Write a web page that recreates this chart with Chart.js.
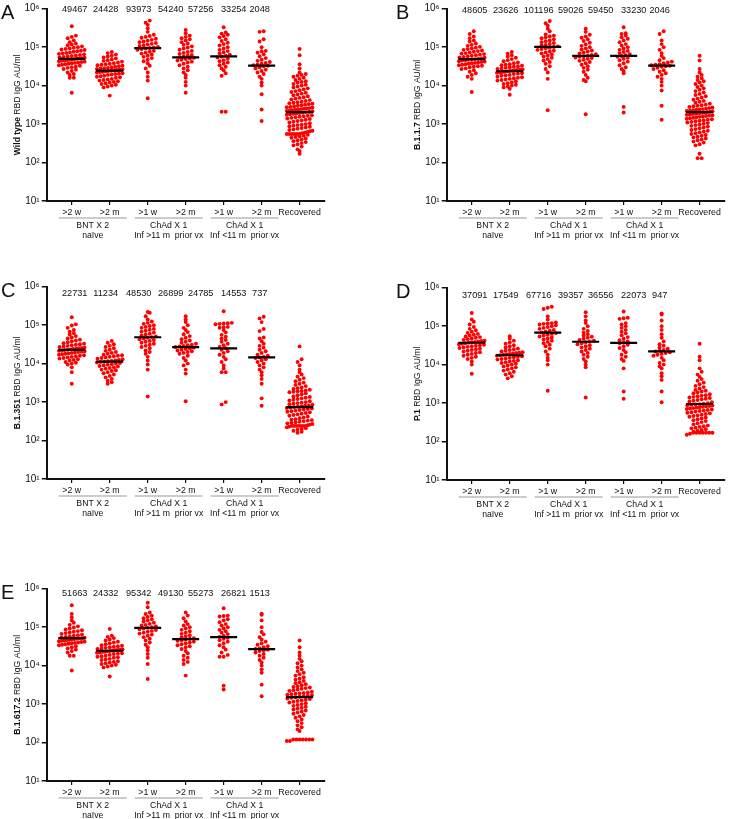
<!DOCTYPE html>
<html>
<head>
<meta charset="utf-8">
<script src="https://cdn.jsdelivr.net/npm/chart.js@4.4.1/dist/chart.umd.min.js"></script>
<style>
  body { margin: 0; background: #fff; width: 740px; height: 819px; overflow: hidden; position: relative;
         font-family: "Liberation Sans", Arial, sans-serif; }
  .panel { position: absolute; }
  .letter { position: absolute; font-size: 20px; line-height: 20px; color: #111; }
</style>
</head>
<body>
<script>
// ---------------------------------------------------------------
// data: antibody titres, in thousands of AU/ml
// ---------------------------------------------------------------

const categories = ['>2 w', '>2 m', '>1 w', '>2 m', '>1 w', '>2 m', 'Recovered'];
const groupTitles = [['BNT X 2', 'naïve'], ['ChAd X 1', 'Inf >11 m  prior vx'], ['ChAd X 1', 'Inf <11 m  prior vx']];
const decades = [10, 100, 1000, 10000, 100000, 1000000];

// Wild type
const wtMedians = [49467, 24428, 93973, 54240, 57256, 33254, 2048];
const wtBnt2w = [350, 200, 185, 170, 150, 135, 125, 118, 112, 105, 100, 97, 93, 90, 87, 84, 81, 78, 76, 73, 71, 69, 67, 65, 63, 61, 59, 58, 56, 55, 53, 52, 51, 50, 49, 48, 47, 46, 45, 44, 43, 42, 41, 40, 39, 38, 37, 36, 35, 34, 33, 31, 30, 29, 27, 26, 24, 22, 20, 19, 16, 16, 6.5];
const wtBnt2m = [75, 70, 64, 60, 57, 54, 51, 48, 46, 44, 42, 40, 38, 37, 36, 35, 34, 33, 32, 31, 30, 29, 28.5, 28, 27, 26.5, 26, 25.5, 25, 24.5, 24, 23.5, 23, 22.5, 22, 21, 20.5, 20, 19.5, 19, 18, 17.5, 17, 16.5, 16, 15, 14.5, 14, 13.5, 13, 12.5, 12, 11.5, 11, 10.5, 10, 9.5, 9, 5.5];
const wtChadHi1w = [490, 430, 380, 310, 250, 210, 195, 185, 175, 165, 155, 148, 140, 135, 128, 122, 117, 112, 107, 102, 98, 95, 92, 89, 85, 80, 76, 72, 68, 64, 60, 56, 52, 47, 43, 38, 33, 28, 22, 17, 13.5, 4.7];
const wtChadHi2m = [280, 230, 200, 185, 170, 160, 150, 135, 125, 115, 105, 98, 92, 86, 80, 75, 71, 67, 63, 60, 57, 55, 53, 51, 49, 47, 45, 42, 40, 37, 34, 31, 28, 25, 22, 19, 16, 12.5, 10, 6.5];
const wtChadLo1w = [330, 240, 225, 210, 195, 180, 160, 145, 130, 120, 110, 100, 92, 85, 79, 74, 69, 64, 60, 57, 54, 50, 46, 43, 40, 37, 34, 31, 28, 25, 21, 18, 2.1, 2.1];
const wtChadLo2m = [260, 250, 160, 140, 100, 80, 78, 72, 65, 58, 52, 47, 44, 41, 39, 37, 35, 34, 33, 32, 30, 28, 26, 24, 22, 20, 17, 15, 12, 10, 6, 2.4, 1.2];
const wtRecovered = [90, 62, 36, 28, 22, 20, 19, 18, 17, 16, 15, 14, 13, 12.5, 12, 11, 10.5, 10, 9.5, 9, 8.5, 8, 7.6, 7.2, 6.8, 6.5, 6.2, 5.9, 5.6, 5.3, 5.0, 4.8, 4.6, 4.4, 4.2, 4.0, 3.8, 3.7, 3.6, 3.5, 3.4, 3.3, 3.2, 3.1, 3.0, 2.9, 2.8, 2.75, 2.7, 2.6, 2.55, 2.5, 2.45, 2.4, 2.35, 2.3, 2.25, 2.2, 2.15, 2.1, 2.05, 2.0, 1.95, 1.9, 1.85, 1.8, 1.75, 1.7, 1.65, 1.6, 1.55, 1.5, 1.45, 1.4, 1.35, 1.3, 1.25, 1.2, 1.15, 1.1, 1.05, 1.0, 0.97, 0.94, 0.91, 0.88, 0.85, 0.82, 0.79, 0.76, 0.73, 0.7, 0.67, 0.65, 0.62, 0.6, 0.58, 0.56, 0.55, 0.55, 0.55, 0.55, 0.55, 0.53, 0.5, 0.48, 0.46, 0.44, 0.42, 0.4, 0.38, 0.36, 0.34, 0.32, 0.3, 0.28, 0.26, 0.22, 0.2, 0.17];

// B.1.1.7
const b117Medians = [48605, 23626, 101196, 59026, 59450, 33230, 2046];
const b117Bnt2w = [260, 220, 190, 170, 150, 140, 125, 115, 108, 102, 97, 93, 89, 85, 82, 79, 76, 73, 70, 68, 66, 64, 62, 60, 58, 56, 54, 53, 51, 50, 49, 48, 47, 46, 45, 43, 42, 41, 40, 39, 38, 37, 36, 35, 34, 33, 32, 31, 30, 28, 27, 25, 23, 21, 19, 17, 15, 6.8];
const b117Bnt2m = [75, 68, 62, 57, 53, 49, 46, 43, 40, 38, 36, 35, 34, 33, 32, 31, 30, 29, 28, 27, 26.5, 26, 25.5, 25, 24.5, 24, 23.5, 23, 22.5, 22, 21.5, 21, 20.5, 20, 19, 18.5, 18, 17, 16.5, 16, 15.5, 15, 14.5, 14, 13.5, 13, 12, 11.5, 11, 10.5, 10, 9.5, 9, 8.3, 5.8];
const b117ChadHi1w = [480, 420, 360, 300, 260, 215, 200, 190, 180, 170, 160, 150, 142, 135, 128, 121, 115, 110, 105, 101, 97, 93, 89, 85, 81, 77, 73, 69, 65, 61, 57, 53, 49, 45, 41, 37, 32, 27, 22, 15, 2.3];
const b117ChadHi2m = [300, 250, 210, 190, 175, 160, 145, 130, 118, 108, 100, 93, 87, 82, 77, 73, 69, 66, 63, 60, 58, 56, 54, 52, 50, 47, 44, 41, 38, 35, 32, 29, 26, 23, 19, 16, 14, 13, 1.8];
const b117ChadLo1w = [330, 230, 220, 200, 180, 165, 150, 135, 120, 110, 100, 92, 85, 80, 75, 70, 66, 62, 59, 56, 53, 50, 46, 42, 38, 34, 30, 27, 24, 21, 2.8, 2.0];
const b117ChadLo2m = [260, 220, 150, 120, 100, 85, 70, 60, 52, 46, 42, 40, 38, 36, 35, 34, 33, 32, 31, 29, 27, 25, 23, 21, 19, 17, 15, 12.5, 10, 7.5, 3.0, 1.3];
const b117Recovered = [60, 45, 27, 22, 19, 17, 15.5, 14, 13, 12, 11, 10, 9.2, 8.5, 7.8, 7.2, 6.6, 6.1, 5.7, 5.3, 4.9, 4.6, 4.3, 4.0, 3.8, 3.6, 3.4, 3.2, 3.1, 3.0, 2.9, 2.8, 2.7, 2.6, 2.5, 2.45, 2.4, 2.35, 2.3, 2.25, 2.2, 2.15, 2.1, 2.05, 2.0, 1.97, 1.94, 1.9, 1.86, 1.82, 1.78, 1.74, 1.7, 1.66, 1.62, 1.58, 1.54, 1.5, 1.46, 1.42, 1.38, 1.34, 1.3, 1.26, 1.22, 1.18, 1.14, 1.1, 1.06, 1.02, 0.98, 0.94, 0.9, 0.86, 0.82, 0.78, 0.74, 0.7, 0.67, 0.64, 0.61, 0.58, 0.55, 0.52, 0.5, 0.47, 0.45, 0.42, 0.4, 0.38, 0.35, 0.33, 0.3, 0.28, 0.17, 0.13, 0.13];

// B.1.351
const b1351Medians = [22731, 11234, 48530, 26899, 24785, 14553, 737];
const b1351Bnt2w = [160, 105, 98, 85, 75, 68, 62, 57, 52, 48, 45, 42, 40, 38, 36, 34, 33, 32, 31, 30, 29, 28, 27, 26, 25.5, 25, 24.5, 24, 23.5, 23, 22.5, 22, 21.5, 21, 20.5, 20, 19.5, 19, 18.5, 18, 17.5, 17, 16.5, 16, 15.5, 15, 14.5, 14, 13.5, 13, 12.5, 12, 11, 10.5, 10, 9.5, 8, 6, 3.0];
const b1351Bnt2m = [39, 35, 32, 29, 27, 25, 23, 21.5, 20, 19, 18, 17, 16.5, 16, 15.5, 15, 14.5, 14, 13.5, 13, 12.5, 12, 11.8, 11.5, 11.2, 11, 10.7, 10.4, 10, 9.7, 9.4, 9, 8.7, 8.4, 8, 7.7, 7.4, 7, 6.7, 6.4, 6, 5.6, 5.2, 4.8, 4.4, 4, 3.6, 3.3, 3.0];
const b1351ChadHi1w = [220, 210, 170, 140, 125, 115, 108, 100, 95, 90, 85, 80, 76, 72, 68, 64, 60, 57, 54, 51, 49, 47, 45, 43, 41, 39, 37, 35, 33, 31, 29, 27, 25, 22, 20, 18, 15, 12, 9.5, 7, 1.4];
const b1351ChadHi2m = [170, 140, 120, 100, 85, 75, 66, 58, 52, 47, 43, 40, 37, 35, 33, 31, 30, 29, 28, 27, 26, 25, 24, 23, 22, 21, 20, 19, 18, 16, 14, 12, 10, 9, 7, 5.5, 1.05];
const b1351ChadLo1w = [230, 115, 112, 110, 108, 106, 90, 88, 86, 75, 65, 56, 50, 45, 41, 37, 33, 30, 27, 25, 23, 21, 19, 17, 15, 13, 11, 9, 7.5, 6, 6, 1.0, 0.87];
const b1351ChadLo2m = [165, 150, 120, 80, 70, 48, 45, 38, 33, 29, 26, 23, 21, 19, 17, 16, 15, 14.5, 14, 13, 12, 11, 10, 9, 8, 7, 6, 5, 4, 3, 1.25, 0.8];
const b1351Recovered = [28, 13, 11, 9, 7, 6, 5.2, 4.6, 4.2, 3.8, 3.5, 3.2, 3.0, 2.8, 2.6, 2.4, 2.3, 2.2, 2.1, 2.0, 1.95, 1.9, 1.85, 1.8, 1.7, 1.6, 1.5, 1.4, 1.35, 1.3, 1.25, 1.2, 1.15, 1.1, 1.05, 1.0, 0.97, 0.94, 0.91, 0.88, 0.85, 0.82, 0.8, 0.78, 0.76, 0.74, 0.72, 0.7, 0.68, 0.66, 0.64, 0.62, 0.6, 0.58, 0.56, 0.54, 0.52, 0.5, 0.48, 0.46, 0.44, 0.42, 0.4, 0.38, 0.36, 0.35, 0.34, 0.33, 0.32, 0.31, 0.3, 0.29, 0.28, 0.27, 0.26, 0.25, 0.24, 0.24, 0.24, 0.24, 0.24, 0.24, 0.24, 0.23, 0.22, 0.21, 0.2, 0.19, 0.18, 0.17, 0.16];

// P.1
const p1Medians = [37091, 17549, 67716, 39357, 36556, 22073, 947];
const p1Bnt2w = [220, 150, 130, 110, 95, 85, 78, 72, 67, 63, 60, 57, 54, 52, 50, 48, 46, 44, 42, 41, 40, 39, 38, 37, 36, 35, 34, 33, 32, 31, 30, 29, 28, 27, 26, 25, 24, 23, 22, 21, 20, 19, 18, 17, 16, 15, 14, 12, 10, 5.8];
const p1Bnt2m = [55, 48, 42, 38, 35, 32, 30, 28, 26, 25, 24, 23, 22, 21, 20.5, 20, 19.5, 19, 18.5, 18, 17.5, 17, 16.5, 16, 15.5, 15, 14.5, 14, 13.5, 13, 12.5, 12, 11.5, 11, 10.5, 10, 9.5, 9, 8.5, 8, 7.5, 7, 6.5, 6, 5.5, 5, 4.4];
const p1ChadHi1w = [320, 300, 280, 180, 150, 125, 120, 118, 115, 110, 105, 100, 95, 90, 85, 80, 76, 72, 69, 66, 63, 60, 57, 54, 51, 48, 45, 42, 39, 36, 33, 30, 26, 22, 18, 15, 13, 10, 2.1];
const p1ChadHi2m = [230, 180, 140, 120, 100, 85, 75, 68, 62, 57, 53, 50, 47, 44, 42, 40, 38, 36, 34, 32, 30, 28, 26, 24, 22, 20, 18, 16, 14, 12, 10, 8.5, 1.4];
const p1ChadLo1w = [240, 165, 160, 155, 120, 110, 100, 90, 80, 72, 65, 58, 52, 47, 43, 40, 38, 36, 33, 30, 27, 24, 21, 18, 16, 14, 12.5, 8, 2.0, 1.3];
const p1ChadLo2m = [215, 200, 140, 100, 80, 62, 50, 40, 34, 31, 28, 26, 24, 23, 22, 21, 20, 19, 18, 17, 15, 13, 11, 10, 9, 8, 6, 5, 4, 2.0, 1.05];
const p1Recovered = [35, 16, 13, 8, 6.5, 5.5, 4.8, 4.2, 3.8, 3.4, 3.1, 2.8, 2.6, 2.4, 2.2, 2.1, 2.0, 1.9, 1.8, 1.7, 1.6, 1.55, 1.5, 1.45, 1.4, 1.35, 1.3, 1.25, 1.2, 1.15, 1.1, 1.05, 1.0, 0.97, 0.94, 0.92, 0.9, 0.88, 0.86, 0.84, 0.82, 0.8, 0.78, 0.76, 0.74, 0.72, 0.7, 0.68, 0.66, 0.64, 0.62, 0.6, 0.58, 0.56, 0.54, 0.52, 0.5, 0.48, 0.46, 0.44, 0.42, 0.4, 0.38, 0.36, 0.34, 0.32, 0.3, 0.28, 0.26, 0.25, 0.24, 0.23, 0.22, 0.21, 0.2, 0.19, 0.18, 0.17, 0.17, 0.17, 0.17, 0.17, 0.17, 0.17, 0.16, 0.15];

// B.1.617.2
const b16172Medians = [51663, 24332, 95342, 49130, 55273, 26821, 1513];
const b16172Bnt2w = [370, 220, 180, 150, 130, 115, 105, 98, 92, 87, 83, 79, 76, 73, 70, 67, 64, 62, 60, 58, 56, 54, 53, 52, 51, 50, 49, 48, 47, 46, 45, 44, 43, 42, 41, 40, 39, 38, 37, 36, 35, 34, 32, 30, 28, 26, 24, 22, 18, 18, 7.5];
const b16172Bnt2m = [90, 60, 56, 52, 48, 45, 42, 40, 38, 36, 34, 33, 32, 31, 30, 29, 28, 27, 26.5, 26, 25.5, 25, 24.5, 24, 23.5, 23, 22.5, 22, 21.5, 21, 20.5, 20, 19, 18, 17.5, 17, 16.5, 16, 15, 14.5, 14, 13, 12.5, 12, 11.5, 11, 10.5, 10, 9.5, 9, 5.2];
const b16172ChadHi1w = [430, 330, 240, 220, 200, 185, 170, 160, 150, 140, 130, 122, 115, 110, 105, 100, 96, 92, 88, 84, 80, 76, 72, 68, 64, 60, 55, 50, 45, 40, 35, 30, 25, 20, 16, 11, 4.5];
const b16172ChadHi2m = [240, 200, 170, 140, 120, 110, 100, 92, 85, 78, 72, 67, 62, 58, 55, 52, 50, 48, 46, 44, 42, 40, 38, 36, 34, 32, 30, 27, 24, 21, 18, 16, 14, 12.5, 11, 5.5];
const b16172ChadLo1w = [310, 200, 195, 190, 160, 150, 135, 120, 110, 100, 92, 85, 78, 72, 66, 60, 56, 53, 50, 46, 42, 38, 34, 30, 26, 22, 19, 17, 17, 3.0, 2.4];
const b16172ChadLo2m = [225, 210, 150, 100, 75, 65, 55, 48, 42, 38, 35, 32, 30, 28, 27, 26, 25, 24, 22, 20, 18, 16, 14, 12, 10, 8, 6.5, 3.2, 1.6];
const b16172Recovered = [45, 30, 22, 18, 15, 13, 11.5, 10, 9, 8, 7.2, 6.5, 6, 5.5, 5, 4.6, 4.3, 4.0, 3.7, 3.5, 3.3, 3.1, 2.9, 2.8, 2.7, 2.6, 2.5, 2.4, 2.3, 2.2, 2.1, 2.0, 1.95, 1.9, 1.85, 1.8, 1.75, 1.7, 1.65, 1.6, 1.55, 1.5, 1.45, 1.4, 1.35, 1.3, 1.25, 1.2, 1.15, 1.1, 1.05, 1.0, 0.95, 0.9, 0.85, 0.8, 0.76, 0.72, 0.68, 0.64, 0.6, 0.56, 0.52, 0.48, 0.44, 0.4, 0.36, 0.32, 0.28, 0.25, 0.22, 0.2, 0.12, 0.12, 0.12, 0.12, 0.12, 0.12, 0.12, 0.11, 0.11];

// ---------------------------------------------------------------
// panels
// ---------------------------------------------------------------

const panels = [
  { letter: 'A', variant: 'Wild type', medians: wtMedians, left: 0, top: 5, numY: 1,
    groups: [wtBnt2w, wtBnt2m, wtChadHi1w, wtChadHi2m, wtChadLo1w, wtChadLo2m, wtRecovered] },
  { letter: 'B', variant: 'B.1.1.7', medians: b117Medians, left: 400, top: 5, numY: 2,
    groups: [b117Bnt2w, b117Bnt2m, b117ChadHi1w, b117ChadHi2m, b117ChadLo1w, b117ChadLo2m, b117Recovered] },
  { letter: 'C', variant: 'B.1.351', medians: b1351Medians, left: 0, top: 283, numY: 7,
    groups: [b1351Bnt2w, b1351Bnt2m, b1351ChadHi1w, b1351ChadHi2m, b1351ChadLo1w, b1351ChadLo2m, b1351Recovered] },
  { letter: 'D', variant: 'P.1', medians: p1Medians, left: 400, top: 284, numY: 7.5,
    groups: [p1Bnt2w, p1Bnt2m, p1ChadHi1w, p1ChadHi2m, p1ChadLo1w, p1ChadLo2m, p1Recovered] },
  { letter: 'E', variant: 'B.1.617.2', medians: b16172Medians, left: 0, top: 585, numY: 5,
    groups: [b16172Bnt2w, b16172Bnt2m, b16172ChadHi1w, b16172ChadHi2m, b16172ChadLo1w, b16172ChadLo2m, b16172Recovered] }
];

const FONT = '"Liberation Sans", Arial, sans-serif';
const PX_PER_DECADE = 39.2;
const PX_PER_SLOT = 40;
const ROW_H = 3.9;      // height of one swarm row, px
const DOT_STEP = 4.3;   // dot spacing inside a row, px
const HALF_WIDTH = 13.5; // widest a swarm may get, px
const NUM_X = [28, 59, 92, 124, 154, 187, 213]; // centres of the median values row
const SUP = { 1: '¹', 2: '²', 3: '³', 4: '⁴', 5: '⁵', 6: '⁶' };

// prism style swarm: dots binned in rows, each row centred and squeezed to a max width
function swarm(values, slot) {
  const rows = new Map();
  values.map(v => v * 1000).sort((a, b) => a - b).forEach(v => {
    const r = Math.round(Math.log10(v) * PX_PER_DECADE / ROW_H);
    if (!rows.has(r)) rows.set(r, []);
    rows.get(r).push(v);
  });
  const out = [];
  rows.forEach(list => {
    const n = list.length;
    const step = n > 1 ? Math.min(DOT_STEP, 2 * HALF_WIDTH / (n - 1)) : 0;
    list.forEach((v, j) => {
      out.push({ x: slot + (j - (n - 1) / 2) * step / PX_PER_SLOT, y: v });
    });
  });
  return out;
}

const annotate = {
  id: 'annotate',
  afterDraw(chart, args, opts) {
    const { ctx, chartArea, scales: { x } } = chart;
    const p = opts.panel;
    ctx.save();
    ctx.fillStyle = '#111';

    // y title, variant name in bold
    ctx.save();
    ctx.translate(18, (chartArea.top + chartArea.bottom) / 2);
    ctx.rotate(-Math.PI / 2);
    ctx.textBaseline = 'middle';
    ctx.textAlign = 'left';
    const boldFont = 'bold 8.6px ' + FONT, normFont = '8.6px ' + FONT;
    const rest = ' RBD IgG AU/ml';
    ctx.font = boldFont;
    const w1 = ctx.measureText(p.variant).width;
    ctx.font = normFont;
    const w2 = ctx.measureText(rest).width;
    ctx.font = boldFont;
    ctx.fillText(p.variant, -(w1 + w2) / 2, 0);
    ctx.font = normFont;
    ctx.fillText(rest, -(w1 + w2) / 2 + w1, 0);
    ctx.restore();

    // median values row
    ctx.font = '9.2px ' + FONT;
    ctx.textBaseline = 'middle';
    ctx.textAlign = 'center';
    p.medians.forEach((m, i) => {
      ctx.fillText(String(m), chartArea.left + NUM_X[i], chartArea.top + p.numY);
    });

    // group underlines and labels
    const yLine = chartArea.bottom + 17;
    ctx.font = '8.7px ' + FONT;
    groupTitles.forEach((t, g) => {
      const x0 = x.getPixelForValue(g * 2) - 13;
      const x1 = x.getPixelForValue(g * 2 + 1) + 17;
      ctx.strokeStyle = '#999';
      ctx.lineWidth = 1;
      ctx.beginPath();
      ctx.moveTo(x0, yLine);
      ctx.lineTo(x1, yLine);
      ctx.stroke();
      ctx.fillText(t[0], (x0 + x1) / 2, yLine + 8);
      ctx.fillText(t[1], (x0 + x1) / 2, yLine + 17.3);
    });
    ctx.restore();
  }
};

function buildPanel(p) {
  const canvasTop = p.top - 12;
  const height = Math.min(263, 819 - canvasTop);
  const box = document.createElement('div');
  box.className = 'panel';
  box.style.left = p.left + 'px';
  box.style.top = canvasTop + 'px';
  const cv = document.createElement('canvas');
  cv.width = 340;
  cv.height = height;
  cv.style.width = '340px';
  cv.style.height = height + 'px';
  box.appendChild(cv);
  document.body.appendChild(box);

  const letter = document.createElement('div');
  letter.className = 'letter';
  letter.textContent = p.letter;
  letter.style.left = (p.left === 0 ? 1 : p.left - 4) + 'px';
  letter.style.top = (p.top - 2.6) + 'px';
  document.body.appendChild(letter);

  const datasets = [{
    label: 'median',
    data: p.medians.map((m, i) => ({ x: i, y: m })),
    pointStyle: 'line',
    pointRadius: 13.5,
    borderColor: '#000',
    borderWidth: 2.2,
    backgroundColor: '#000'
  }];
  p.groups.forEach((g, i) => {
    datasets.push({
      label: categories[i],
      data: swarm(g, i),
      pointRadius: 1.95,
      pointBorderWidth: 0,
      backgroundColor: '#ff0000',
      borderColor: '#ff0000'
    });
  });

  new Chart(cv, {
    type: 'scatter',
    data: { datasets },
    plugins: [annotate],
    options: {
      responsive: false,
      animation: false,
      devicePixelRatio: 1,
      layout: { padding: { top: 12, right: 1, left: 0, bottom: 0 } },
      plugins: { legend: { display: false }, tooltip: { enabled: false }, annotate: { panel: p } },
      scales: {
        x: {
          type: 'linear', min: -0.66, max: 6.65,
          afterBuildTicks: s => { s.ticks = categories.map((c, i) => ({ value: i })); },
          afterFit: s => { s.height = height - 12 - 196; s.paddingLeft = 0; s.paddingRight = 0; },
          ticks: { callback: v => categories[v], font: { family: FONT, size: 8.8 }, color: '#111', padding: 2, maxRotation: 0, autoSkip: false },
          grid: { drawOnChartArea: false, tickLength: 4, color: '#111', lineWidth: 1.2 },
          border: { color: '#111', width: 2 }
        },
        y: {
          type: 'logarithmic', min: 10, max: 1000000,
          afterBuildTicks: s => { s.ticks = decades.map(v => ({ value: v })); },
          afterFit: s => { s.width = 46.7; s.paddingTop = 0; s.paddingBottom = 0; },
          ticks: { callback: v => '10' + SUP[Math.round(Math.log10(v))], font: { family: FONT, size: 10 }, color: '#111', padding: 2 },
          grid: { drawOnChartArea: false, tickLength: 5, color: '#111', lineWidth: 1.5 },
          border: { color: '#111', width: 2 }
        }
      }
    }
  });
}

panels.forEach(buildPanel);
</script>
</body>
</html>
